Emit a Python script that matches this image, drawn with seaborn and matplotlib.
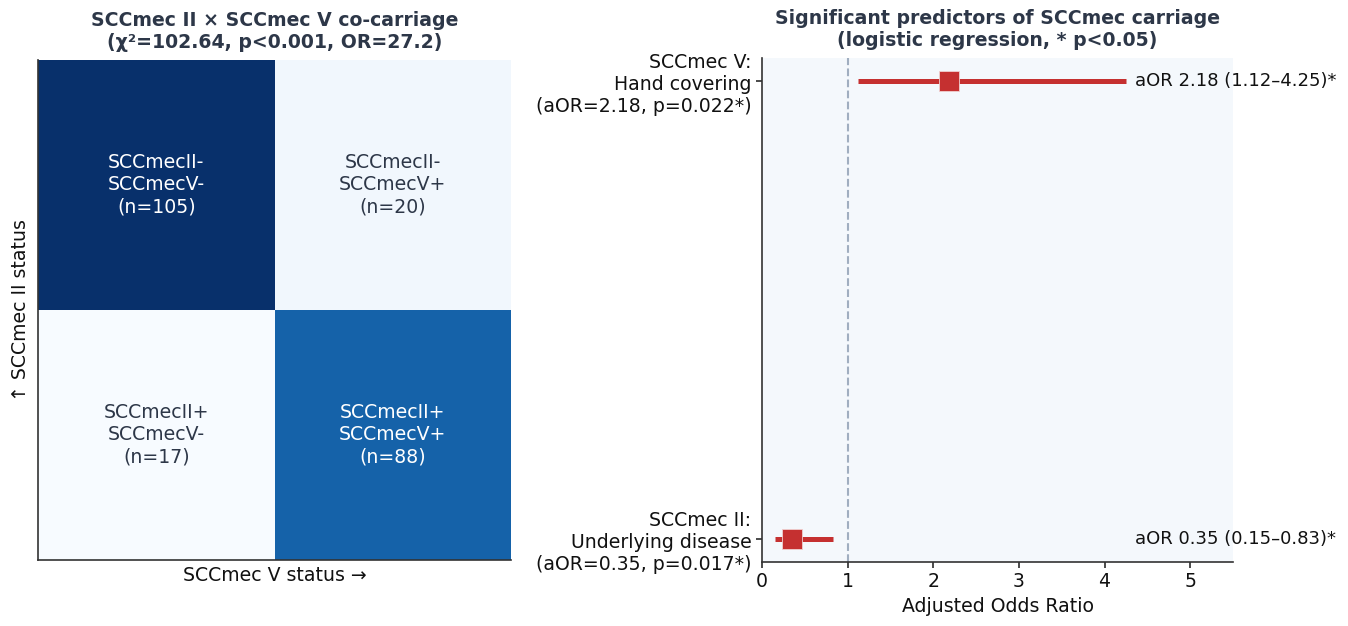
import numpy as np
import pandas as pd
import matplotlib
matplotlib.use("Agg")
import matplotlib.pyplot as plt
import seaborn as sns

# 2x2 contingency table: rows = SCCmec II (-, +), columns = SCCmec V (-, +)
counts = [[105, 20], [17, 88]]
cell_labels = [["SCCmecII-\nSCCmecV-", "SCCmecII-\nSCCmecV+"],
               ["SCCmecII+\nSCCmecV-", "SCCmecII+\nSCCmecV+"]]

# Logistic regression predictors
predictors = ["SCCmec II:\nUnderlying disease\n(aOR=0.35, p=0.017*)",
              "SCCmec V:\nHand covering\n(aOR=2.18, p=0.022*)"]
aor = [0.35, 2.18]
ci_low = [0.15, 1.12]
ci_high = [0.83, 4.25]

sns.set_theme(style="white")
plt.rcParams["font.family"] = ["DejaVu Sans"]
plt.rcParams["text.color"] = "#111111"
plt.rcParams["axes.labelcolor"] = "#111111"
plt.rcParams["xtick.color"] = "#111111"
plt.rcParams["ytick.color"] = "#111111"

FS = 13.6
title_color = "#2d3748"
fig = plt.figure(figsize=(13.48, 6.26), dpi=100)
ax1 = fig.add_axes([38 / 1348, 1 - 560 / 626, 473 / 1348, 500 / 626])
ax2 = fig.add_axes([762 / 1348, 1 - 562 / 626, 471 / 1348, 504 / 626])

# --- Left: co-carriage heatmap ---
mat = np.array(counts)
annot = np.array([[f"{cell_labels[i][j]}\n(n={mat[i, j]})" for j in range(2)] for i in range(2)])
sns.heatmap(mat, ax=ax1, cmap="Blues", vmin=mat.min(), vmax=mat.max(),
            cbar=False, annot=False, xticklabels=False, yticklabels=False)
for i in range(2):
    for j in range(2):
        frac = (mat[i, j] - mat.min()) / (mat.max() - mat.min())
        ax1.text(j + 0.5, i + 0.5, annot[i, j], ha="center", va="center",
                 fontsize=FS, color="white" if frac > 0.5 else title_color)
for side in ["left", "bottom"]:
    ax1.spines[side].set_visible(True)
    ax1.spines[side].set_color("#333333")
    ax1.spines[side].set_linewidth(1.2)
for side in ["top", "right"]:
    ax1.spines[side].set_visible(False)
ax1.set_xlabel("SCCmec V status →", fontsize=FS, labelpad=4)
ax1.set_ylabel("↑ SCCmec II status", fontsize=FS, labelpad=6)
ax1.set_title("SCCmec II × SCCmec V co-carriage\n(χ²=102.64, p<0.001, OR=27.2)",
              fontsize=FS, fontweight="bold", color=title_color, pad=9)

# --- Right: forest plot ---
ax2.set_facecolor("#f4f8fc")
ypos = np.arange(len(predictors))
red = "#c53030"
ax2.axvline(1, color="#a0aec0", linestyle="--", linewidth=1.5, zorder=1)
ax2.hlines(ypos, ci_low, ci_high, color=red, linewidth=3.6, zorder=2)
ax2.plot(aor, ypos, linestyle="none", marker="s", markersize=14,
         color=red, markeredgecolor="#f0d0d0", markeredgewidth=0.6, zorder=3)
label_x = max(ci_high) + 0.1
for y, a, lo, hi in zip(ypos, aor, ci_low, ci_high):
    ax2.text(label_x, y, f"aOR {a:.2f} ({lo:.2f}–{hi:.2f})*", va="center",
             ha="left", fontsize=13, clip_on=False)
ax2.set_yticks(ypos)
ax2.set_yticklabels(predictors, fontsize=FS)
ax2.set_ylim(-0.05, 1.05)
ax2.set_xlim(0, 5.5)
ax2.set_xticks([0, 1, 2, 3, 4, 5])
ax2.tick_params(axis="x", labelsize=FS, bottom=True, length=4, color="#333333")
ax2.tick_params(axis="y", left=True, length=4, color="#333333")
ax2.set_xlabel("Adjusted Odds Ratio", fontsize=FS)
for side in ["top", "right"]:
    ax2.spines[side].set_visible(False)
for side in ["left", "bottom"]:
    ax2.spines[side].set_color("#333333")
    ax2.spines[side].set_linewidth(1.2)
ax2.set_title("Significant predictors of SCCmec carriage\n(logistic regression, * p<0.05)",
              fontsize=FS, fontweight="bold", color=title_color, pad=9)

fig.savefig("out.png", dpi=100)
